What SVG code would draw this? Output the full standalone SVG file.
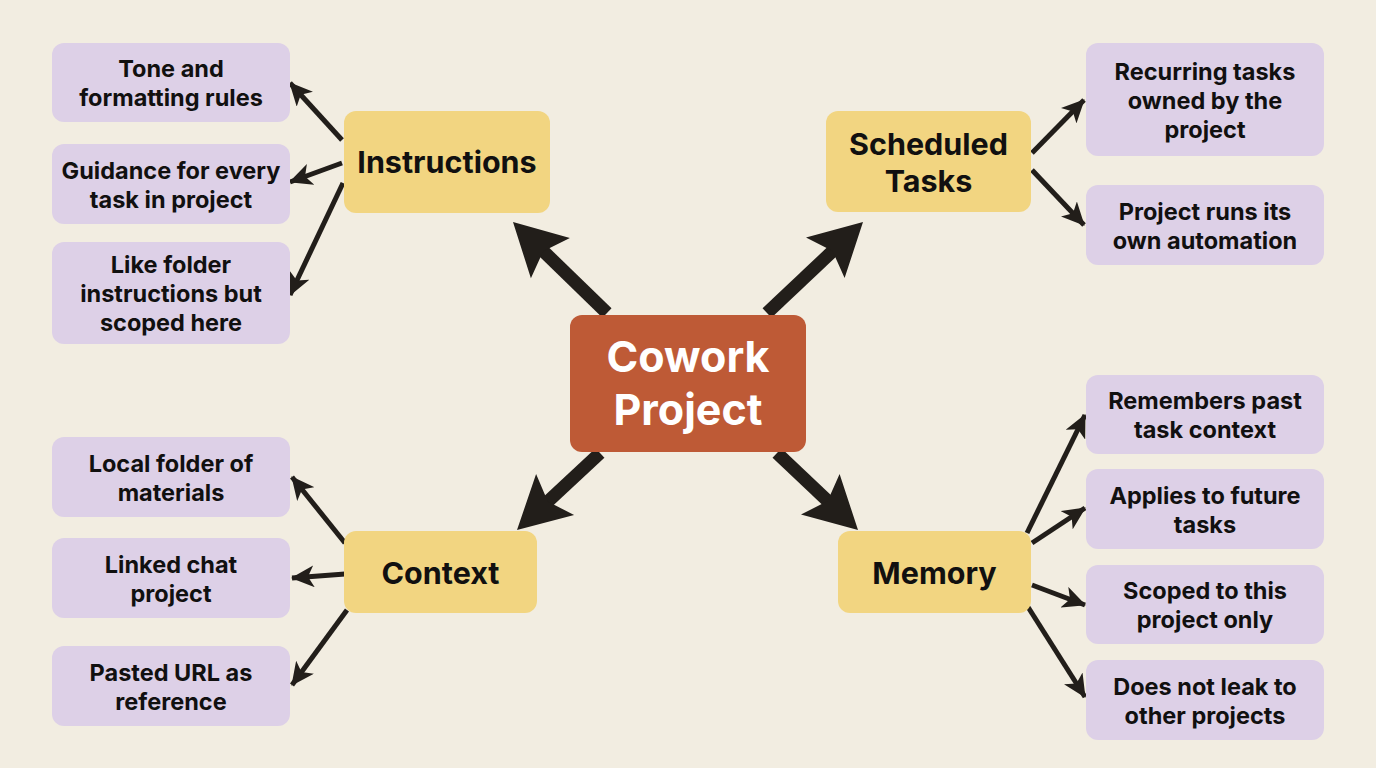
<svg xmlns="http://www.w3.org/2000/svg" width="1376" height="768" viewBox="0 0 1376 768">
<defs>
<style>
.bg{fill:#F2EDE1}
.leaf{fill:#DDD0E7}
.cat{fill:#F2D581}
.core{fill:#BE5A36}
text{font-family:Inter,"Liberation Sans",sans-serif;font-weight:700;text-anchor:middle}
.lt{font-size:23.5px;fill:#111010}
.ct{font-size:30.5px;fill:#111010}
.mt{font-size:43px;fill:#FFFFFF}
.thin{stroke:#221E1A;stroke-width:5;fill:none;marker-end:url(#ah)}
.thick{stroke:#221E1A;stroke-width:13;fill:none}
.head{fill:#221E1A}
</style>
<marker id="ah" markerUnits="userSpaceOnUse" markerWidth="24" markerHeight="22" refX="22" refY="11" orient="auto" viewBox="0 0 24 22">
<path d="M0,0 L23,11 L0,22 L6,11 z" fill="#221E1A"/>
</marker>
</defs>
<rect class="bg" x="0" y="0" width="1376" height="768"/>

<g id="connectors">
<line class="thick" x1="607" y1="313" x2="538" y2="246"/>
<polygon class="head" points="513,222 569.9,238.1 543.2,251.2 530.9,278.3"/>
<line class="thick" x1="767" y1="313" x2="838" y2="246"/>
<polygon class="head" points="863,222 844.6,278.1 832.5,250.9 806,237.5"/>
<line class="thick" x1="600" y1="453" x2="542" y2="507"/>
<polygon class="head" points="517,530 536.1,474.1 547.8,501.4 574.1,515.1"/>
<line class="thick" x1="777" y1="453" x2="833" y2="506"/>
<polygon class="head" points="858,530 801,514.5 827.6,501.1 839.6,473.9"/>

<line class="thin" x1="342" y1="140" x2="290" y2="83"/>
<line class="thin" x1="342" y1="163" x2="290" y2="182"/>
<line class="thin" x1="343" y1="183" x2="290" y2="295"/>

<line class="thin" x1="1032" y1="153" x2="1084" y2="100"/>
<line class="thin" x1="1032" y1="170" x2="1084" y2="225"/>

<line class="thin" x1="345" y1="543" x2="292" y2="477"/>
<line class="thin" x1="345" y1="574" x2="292" y2="578"/>
<line class="thin" x1="347" y1="610" x2="292" y2="685"/>

<line class="thin" x1="1027" y1="533" x2="1085" y2="415"/>
<line class="thin" x1="1032" y1="543" x2="1085" y2="508"/>
<line class="thin" x1="1032" y1="585" x2="1085" y2="605"/>
<line class="thin" x1="1028" y1="607" x2="1085" y2="697"/>
</g>

<g id="core">
<rect class="core" x="570" y="315" width="236" height="137" rx="12"/>
<text class="mt" x="688" y="372">Cowork</text>
<text class="mt" x="688" y="425">Project</text>
</g>

<g id="instructions">
<rect class="cat" x="344" y="111" width="206" height="102" rx="12"/>
<text class="ct" x="447" y="173">Instructions</text>
</g>
<g id="scheduled">
<rect class="cat" x="826" y="111" width="205" height="101" rx="12"/>
<text class="ct" x="928.5" y="155">Scheduled</text>
<text class="ct" x="928.5" y="192">Tasks</text>
</g>
<g id="context">
<rect class="cat" x="344" y="531" width="193" height="82" rx="12"/>
<text class="ct" x="440.5" y="584">Context</text>
</g>
<g id="memory">
<rect class="cat" x="838" y="531" width="193" height="82" rx="12"/>
<text class="ct" x="934.5" y="584">Memory</text>
</g>

<g id="tone">
<rect class="leaf" x="52" y="43" width="238" height="79" rx="12"/>
<text class="lt" x="171" y="76.5">Tone and</text>
<text class="lt" x="171" y="105.5">formatting rules</text>
</g>
<g id="guidance">
<rect class="leaf" x="52" y="144" width="238" height="80" rx="12"/>
<text class="lt" x="171" y="178.5">Guidance for every</text>
<text class="lt" x="171" y="207.5">task in project</text>
</g>
<g id="likefolder">
<rect class="leaf" x="52" y="242" width="238" height="102" rx="12"/>
<text class="lt" x="171" y="272.5">Like folder</text>
<text class="lt" x="171" y="301.5">instructions but</text>
<text class="lt" x="171" y="330.5">scoped here</text>
</g>
<g id="localfolder">
<rect class="leaf" x="52" y="437" width="238" height="80" rx="12"/>
<text class="lt" x="171" y="471.5">Local folder of</text>
<text class="lt" x="171" y="500.5">materials</text>
</g>
<g id="linkedchat">
<rect class="leaf" x="52" y="538" width="238" height="80" rx="12"/>
<text class="lt" x="171" y="572.5">Linked chat</text>
<text class="lt" x="171" y="601.5">project</text>
</g>
<g id="pastedurl">
<rect class="leaf" x="52" y="646" width="238" height="80" rx="12"/>
<text class="lt" x="171" y="680.5">Pasted URL as</text>
<text class="lt" x="171" y="709.5">reference</text>
</g>

<g id="recurring">
<rect class="leaf" x="1086" y="43" width="238" height="113" rx="12"/>
<text class="lt" x="1205" y="79.5">Recurring tasks</text>
<text class="lt" x="1205" y="108.5">owned by the</text>
<text class="lt" x="1205" y="137.5">project</text>
</g>
<g id="automation">
<rect class="leaf" x="1086" y="185" width="238" height="80" rx="12"/>
<text class="lt" x="1205" y="219.5">Project runs its</text>
<text class="lt" x="1205" y="248.5">own automation</text>
</g>
<g id="remembers">
<rect class="leaf" x="1086" y="375" width="238" height="79" rx="12"/>
<text class="lt" x="1205" y="408.5">Remembers past</text>
<text class="lt" x="1205" y="437.5">task context</text>
</g>
<g id="applies">
<rect class="leaf" x="1086" y="469" width="238" height="80" rx="12"/>
<text class="lt" x="1205" y="503.5">Applies to future</text>
<text class="lt" x="1205" y="532.5">tasks</text>
</g>
<g id="scoped">
<rect class="leaf" x="1086" y="565" width="238" height="79" rx="12"/>
<text class="lt" x="1205" y="598.5">Scoped to this</text>
<text class="lt" x="1205" y="627.5">project only</text>
</g>
<g id="noleak">
<rect class="leaf" x="1086" y="660" width="238" height="80" rx="12"/>
<text class="lt" x="1205" y="694.5">Does not leak to</text>
<text class="lt" x="1205" y="723.5">other projects</text>
</g>
</svg>
